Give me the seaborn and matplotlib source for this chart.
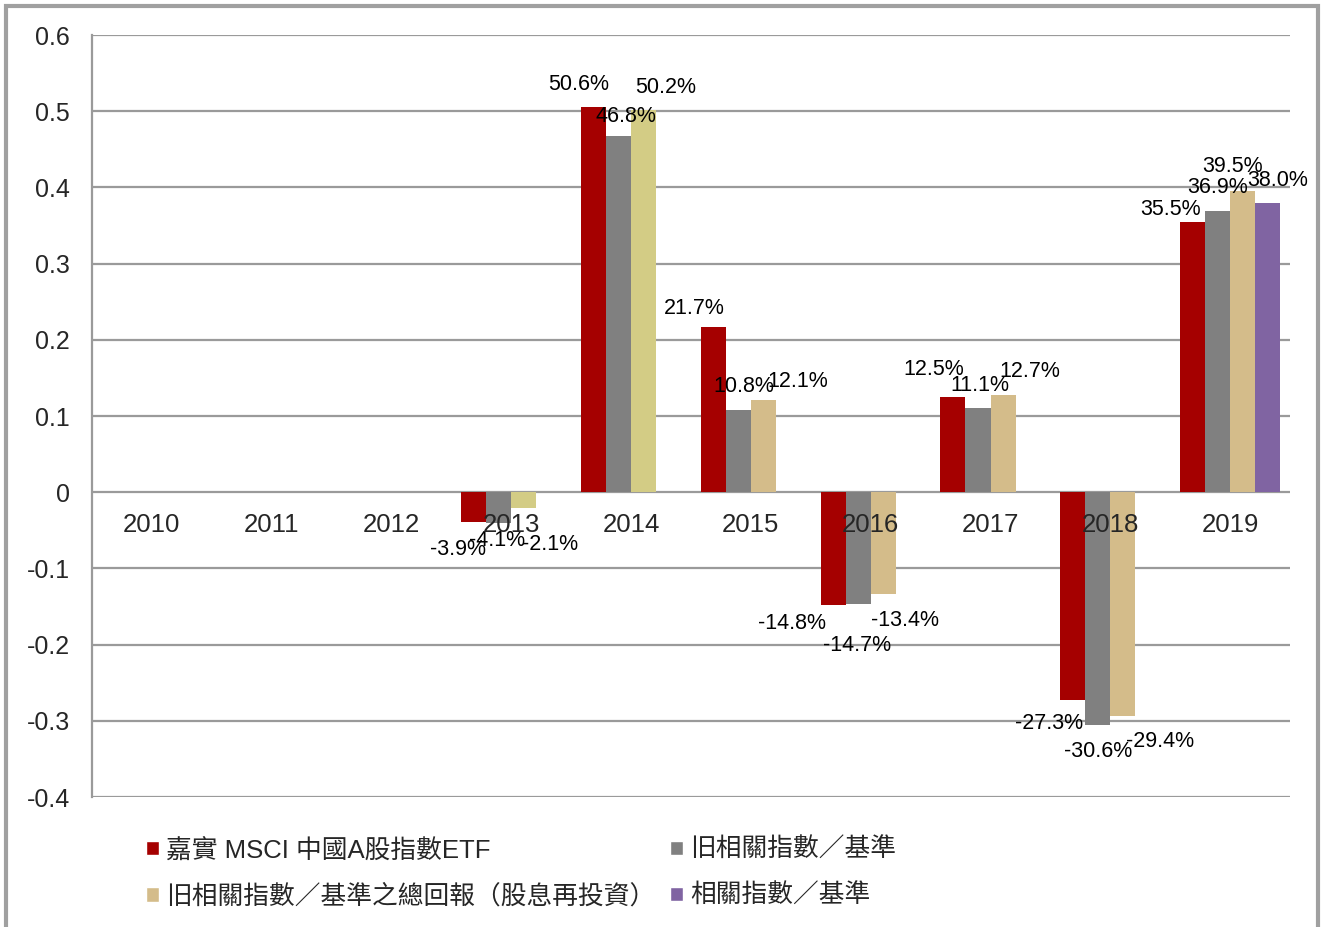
import numpy as np
import pandas as pd
import matplotlib
matplotlib.use("Agg")
import matplotlib.pyplot as plt
from matplotlib.patches import Patch, Rectangle
import seaborn as sns

# ---- data ----
years = ["2010", "2011", "2012", "2013", "2014", "2015", "2016", "2017", "2018", "2019"]
series = ["嘉實 MSCI 中國A股指數ETF", "旧相關指數／基準",
          "旧相關指數／基準之總回報（股息再投資）", "相關指數／基準"]
etf = [np.nan, np.nan, np.nan, -0.039, 0.506, 0.217, -0.148, 0.125, -0.273, 0.355]
old_index = [np.nan, np.nan, np.nan, -0.041, 0.468, 0.108, -0.147, 0.111, -0.306, 0.369]
old_total = [np.nan, np.nan, np.nan, -0.021, 0.502, 0.121, -0.134, 0.127, -0.294, 0.395]
new_index = [np.nan, np.nan, np.nan, np.nan, np.nan, np.nan, np.nan, np.nan, np.nan, 0.380]
yticks = [0.6, 0.5, 0.4, 0.3, 0.2, 0.1, 0.0, -0.1, -0.2, -0.3, -0.4]

# ---- styles ----
colors = ["#a50000", "#808080", "#d4bc8a", "#8064a2"]
alt_total_color = "#d3cc85"   # 2013/2014 total-return bars appear yellower
grid_color = "#9a9a9a"

# label offsets (points) to mimic the reference's label placement
label_dx = {
    0: [0, 0, 0, -11, -11, -14, -30, -14, -17, -16],
    1: [0, 0, 0, -1, 5, 4, -1, 1, 0, 0],
    2: [0, 0, 0, 19, 16, 25, 16, 19, 27, -7],
    3: [0, 0, 0, 0, 0, 0, 0, 0, 0, 7],
}
label_dy = {
    0: [0, 0, 0, -20, 16, 13, -13, 20, -17, 9],
    1: [0, 0, 0, -12, 14, 17, -30, 16, -19, 17],
    2: [0, 0, 0, -26, 16, 13, -19, 17, -18, 18],
    3: [0, 0, 0, 0, 0, 0, 0, 0, 0, 16],
}

sns.set_style("white")
plt.rcParams["font.family"] = ["Liberation Sans", "Noto Sans CJK TC", "DejaVu Sans"]

rows = []
for s, vals in zip(series, [etf, old_index, old_total, new_index]):
    for y, v in zip(years, vals):
        rows.append({"year": y, "series": s, "value": v})
df = pd.DataFrame(rows)

fig = plt.figure(figsize=(13.25, 9.27), dpi=100)
ax = fig.add_axes([0.0694, 0.1402, 0.9042, 0.8220])

sns.barplot(data=df, x="year", y="value", hue="series", order=years,
            hue_order=series, palette=colors, saturation=1, width=0.835,
            errorbar=None, ax=ax, legend=False, zorder=3, linewidth=0,
            edgecolor="none")

ax.set_ylim(-0.4, 0.6)
ax.set_xlim(-0.5, len(years) - 0.5)
ax.set_yticks(yticks)
ax.set_yticklabels([f"{t:g}" for t in yticks])
ax.yaxis.grid(True, color=grid_color, linewidth=1.6)
ax.set_axisbelow(True)
ax.tick_params(axis="y", length=0, pad=16, labelsize=18)
ax.set_xticks([])
ax.set_xlabel("")
ax.set_ylabel("")
for sp in ["top", "right", "bottom"]:
    ax.spines[sp].set_visible(False)
ax.spines["left"].set_color(grid_color)
ax.spines["left"].set_linewidth(1.6)

# bar labels and colour tweaks
all_vals = [etf, old_index, old_total, new_index]
for k, cont in enumerate(ax.containers):
    vals = all_vals[k]
    for bar in cont:
        h = bar.get_height()
        if np.isnan(h):
            continue
        xc = bar.get_x() + bar.get_width() / 2
        i = int(round(xc))
        if k == 2 and years[i] in ("2013", "2014"):
            bar.set_facecolor(alt_total_color)
        v = vals[i]
        ax.annotate(f"{v * 100:.1f}%", (xc, v),
                    xytext=(label_dx[k][i], label_dy[k][i]),
                    textcoords="offset points", ha="center", va="center",
                    fontsize=15.5, color="black", zorder=6)

# category labels just below the zero line
for i, y in enumerate(years):
    ax.annotate(y, (i, 0), xytext=(0, -23.5), textcoords="offset points",
                ha="center", va="center", fontsize=18.5, zorder=7)

handles = [Patch(facecolor=colors[0]), Patch(facecolor=colors[2]),
           Patch(facecolor=colors[1]), Patch(facecolor=colors[3])]
labels = [series[0], series[2], series[1], series[3]]
fig.legend(handles, labels, loc="upper left", bbox_to_anchor=(0.110, 0.096),
           ncol=2, frameon=False, fontsize=18.5, handlelength=0.5,
           handleheight=0.5, handletextpad=0.3, columnspacing=0.55,
           labelspacing=0.85, borderaxespad=0, borderpad=0)

# outer frame
fig.patches.append(Rectangle((0.0045, -0.01), 0.9902, 1.0035,
                             transform=fig.transFigure, fill=False,
                             edgecolor="#a0a0a0", linewidth=3))

fig.savefig("out.png", dpi=100)
